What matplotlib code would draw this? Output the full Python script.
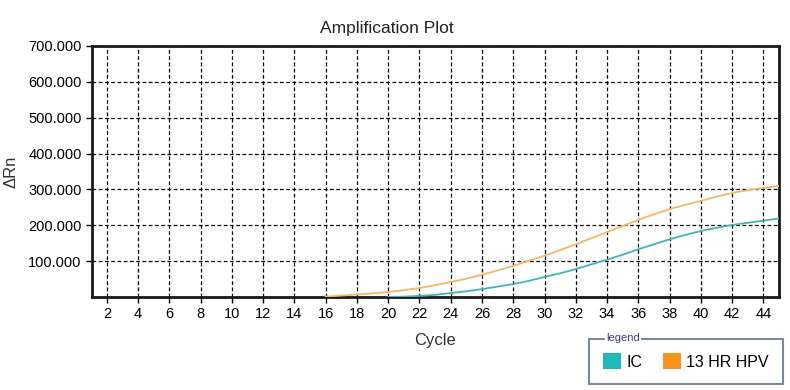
import matplotlib.pyplot as plt
from matplotlib.patches import Patch

plt.rcParams['font.family'] = ['Liberation Sans', 'DejaVu Sans']

# data
hpv_cycles = list(range(16, 46))
hpv_rn = [1, 4, 7, 10, 14, 19, 25, 33, 42, 51, 62, 74, 87, 101, 115, 131,
          147, 164, 181, 198, 215, 231, 245, 257, 268, 280, 290, 298, 304, 310]
ic_cycles = list(range(20, 46))
ic_rn = [0, 1, 3, 6, 11, 16, 22, 29, 36, 45, 56, 66, 78, 91, 104, 118,
         133, 147, 161, 173, 184, 193, 201, 207, 213, 219]

x_ticks = list(range(2, 46, 2))
y_ticks = [100, 200, 300, 400, 500, 600, 700]

ic_line, hpv_line = '#45B3B4', '#F4B766'
ic_patch, hpv_patch = '#20B9B9', '#F7941E'

fig = plt.figure(figsize=(7.9, 3.9), dpi=100)
ax = fig.add_axes([92 / 790, 1 - 297 / 390, 687 / 790, 251 / 390])

ax.plot(hpv_cycles, hpv_rn, color=hpv_line, lw=1.3, zorder=3)
ax.plot(ic_cycles, ic_rn, color=ic_line, lw=1.3, zorder=3)

ax.set_xlim(1.05, 45)
ax.set_ylim(0, 700)
ax.set_xticks(x_ticks)
ax.set_yticks(y_ticks)
ax.set_yticklabels([f'{v:.3f}' for v in y_ticks])
ax.tick_params(direction='out', length=4, width=1, labelsize=10.5, color='black')
ax.grid(True, color='black', linestyle=(0, (3, 2)), linewidth=0.9)
for s in ax.spines.values():
    s.set_linewidth(2)
    s.set_color('#1a1a1a')

ax.set_xlabel('Cycle', fontsize=12, labelpad=8, color='#333333')
ax.set_ylabel('ΔRn', fontsize=12, labelpad=7, color='#333333')
fig.text(387 / 790, 1 - 28 / 390, 'Amplification Plot', ha='center', va='center',
         fontsize=12.5, color='#222222')

handles = [Patch(facecolor=ic_patch, edgecolor='none', label='IC'),
           Patch(facecolor=hpv_patch, edgecolor='none', label='13 HR HPV')]
leg = fig.legend(handles=handles, loc='lower right', ncol=2,
                 bbox_to_anchor=(783 / 790, 1 - 384 / 390), borderaxespad=0,
                 fontsize=11.5, frameon=True, fancybox=False, framealpha=1,
                 handlelength=1.15, handleheight=1.2, handletextpad=0.3,
                 columnspacing=1.3, borderpad=0.9)
leg.get_frame().set_edgecolor('#7f8a99')
leg.get_frame().set_linewidth(1.5)
fig.text(606 / 790, 1 - 338 / 390, 'legend', ha='left', va='center', fontsize=8,
         color='#3a3a8c', zorder=10,
         bbox=dict(facecolor='white', edgecolor='none', pad=1))

fig.savefig('out.png', dpi=100)
